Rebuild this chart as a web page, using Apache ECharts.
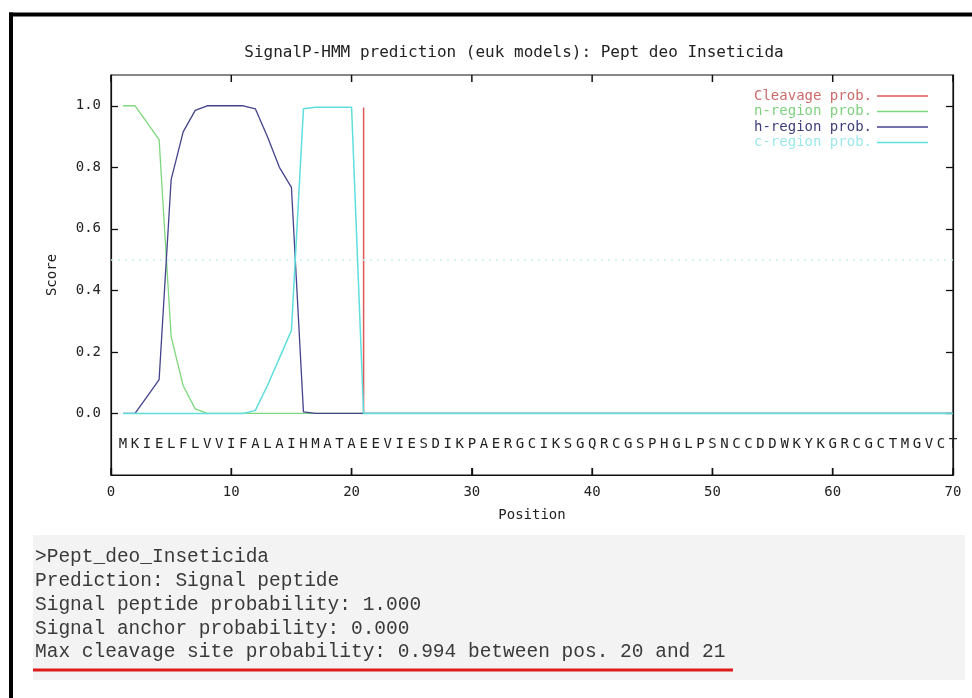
<!DOCTYPE html>
<html>
<head>
<meta charset="utf-8">
<script src="https://cdn.jsdelivr.net/npm/echarts@6/dist/echarts.min.js"></script>
<style>
html,body{margin:0;padding:0;background:#ffffff;}
#chart{width:972px;height:698px;}
</style>
</head>
<body>
<div id="chart"></div>
<script>
// ---------- data ----------
const titleText = 'SignalP-HMM prediction (euk models): Pept deo Inseticida';
const xTicks = [0, 10, 20, 30, 40, 50, 60, 70];
const yTicks = [0.0, 0.2, 0.4, 0.6, 0.8, 1.0];
const sequence = 'MKIELFLVVIFALAIHMATAEEVIESDIKPAERGCIKSGQRCGSPHGLPSNCCDDWKYKGRCGCTMGVCT'.split('');
const seriesNames = ['Cleavage prob.', 'n-region prob.', 'h-region prob.', 'c-region prob.'];
const cleavagePos = [21];
const cleavageVal = [0.994];
const nRegion = [
  1.0, 1.0, 0.945, 0.89, 0.25, 0.09, 0.015, 0, 0, 0,
  0, 0, 0, 0, 0, 0, 0, 0, 0, 0,
  0, 0, 0, 0, 0, 0, 0, 0, 0, 0,
  0, 0, 0, 0, 0, 0, 0, 0, 0, 0,
  0, 0, 0, 0, 0, 0, 0, 0, 0, 0,
  0, 0, 0, 0, 0, 0, 0, 0, 0, 0,
  0, 0, 0, 0, 0, 0, 0, 0, 0, 0
];
const hRegion = [
  0, 0, 0.055, 0.11, 0.76, 0.915, 0.985, 1.0, 1.0, 1.0,
  1.0, 0.99, 0.9, 0.8, 0.735, 0.005, 0, 0, 0, 0,
  0, 0, 0, 0, 0, 0, 0, 0, 0, 0,
  0, 0, 0, 0, 0, 0, 0, 0, 0, 0,
  0, 0, 0, 0, 0, 0, 0, 0, 0, 0,
  0, 0, 0, 0, 0, 0, 0, 0, 0, 0,
  0, 0, 0, 0, 0, 0, 0, 0, 0, 0
];
const cRegion = [
  0, 0, 0, 0, 0, 0, 0, 0, 0, 0,
  0, 0.01, 0.09, 0.18, 0.27, 0.99, 0.995, 0.995, 0.995, 0.995,
  0, 0, 0, 0, 0, 0, 0, 0, 0, 0,
  0, 0, 0, 0, 0, 0, 0, 0, 0, 0,
  0, 0, 0, 0, 0, 0, 0, 0, 0, 0,
  0, 0, 0, 0, 0, 0, 0, 0, 0, 0,
  0, 0, 0, 0, 0, 0, 0, 0, 0, 0
];
const threshold = 0.5;
const summaryLines = [
  '>Pept_deo_Inseticida',
  'Prediction: Signal peptide',
  'Signal peptide probability: 1.000',
  'Signal anchor probability: 0.000',
  'Max cleavage site probability: 0.994 between pos. 20 and 21'
];

// ---------- build ----------
const toXY = arr => arr.map((v, i) => [i + 1, v]);
const MONO = '"DejaVu Sans Mono", monospace';
const SEQ_ROW = -0.1;
const Y_MIN = -0.2, Y_MAX = 1.1, TICK_LEN = 7;

const chart = echarts.init(document.getElementById('chart'), null, {renderer: 'canvas'});

function axisCommon(ticks) {
  const tick = {show: true, inside: true, length: TICK_LEN, lineStyle: {color: '#111', width: 1.3}};
  if (ticks) tick.customValues = ticks;
  return {
    axisLine: {show: true, onZero: false, lineStyle: {color: '#111', width: 1.2}},
    axisTick: tick, splitLine: {show: false}
  };
}
const fmt1 = v => (Math.abs(v) < 1e-9 ? '0.0' : v.toFixed(1));

const textGraphics = summaryLines.map((t, i) => ({
  type: 'text', left: 35, top: 547 + i * 23.8,
  style: {text: t, font: '19.5px "Liberation Mono", monospace', fill: '#3a3a3a'}
}));

const option = {
  animation: false,
  backgroundColor: '#ffffff',
  title: {
    text: titleText, left: 509, top: 40, textAlign: 'center',
    textStyle: {fontFamily: MONO, fontSize: 16, fontWeight: 'normal', color: '#222'}
  },
  legend: {
    orient: 'vertical', right: 39, top: 84, align: 'right',
    icon: 'rect', itemWidth: 51, itemHeight: 1.5, itemGap: 1.5,
    textStyle: {fontFamily: MONO, fontSize: 14},
    data: [
      {name: seriesNames[0], textStyle: {color: '#cc6a6a'}},
      {name: seriesNames[1], textStyle: {color: '#7fd07f'}},
      {name: seriesNames[2], textStyle: {color: '#3e3e7c'}},
      {name: seriesNames[3], textStyle: {color: '#9de8e8'}}
    ]
  },
  grid: {left: 111, right: 19, top: 75, bottom: 223, show: true, borderColor: '#111', borderWidth: 1.2},
  xAxis: [
    Object.assign({}, axisCommon(null), {
      type: 'value', min: xTicks[0], max: xTicks[xTicks.length - 1], interval: xTicks[1] - xTicks[0],
      name: 'Position', nameLocation: 'middle', nameGap: 33,
      nameTextStyle: {fontFamily: MONO, fontSize: 14, color: '#222'},
      axisLabel: {fontFamily: MONO, fontSize: 14, color: '#222', margin: 10}
    })
  ],
  yAxis: [
    Object.assign({}, axisCommon(yTicks), {
      type: 'value', min: Y_MIN, max: Y_MAX, interval: yTicks[1] - yTicks[0],
      name: 'Score', nameLocation: 'middle', nameGap: 52, nameRotate: 90,
      nameTextStyle: {fontFamily: MONO, fontSize: 14, color: '#222'},
      axisLabel: {fontFamily: MONO, fontSize: 14, color: '#222', margin: 10, customValues: yTicks, formatter: fmt1}
    }),
    Object.assign({}, axisCommon(yTicks), {
      type: 'value', position: 'right', min: Y_MIN, max: Y_MAX, interval: yTicks[1] - yTicks[0],
      axisLabel: {show: false}
    })
  ],
  graphic: [
    {type: 'rect', shape: {x: 9, y: 12.5, width: 963, height: 4}, style: {fill: '#000'}, z: 100},
    {type: 'rect', shape: {x: 9, y: 12.5, width: 4, height: 686}, style: {fill: '#000'}, z: 100},
    {type: 'rect', shape: {x: 33, y: 535, width: 932, height: 145}, style: {fill: '#f3f3f3'}, z: -1},
    {type: 'rect', shape: {x: 33, y: 668.5, width: 700, height: 3}, style: {fill: '#e01b1b'}, z: 100}
  ].concat(textGraphics),
  series: [
    {
      name: 'xticks', type: 'custom', clip: false, silent: true,
      data: xTicks.map(v => [v, Y_MIN, Y_MAX]),
      encode: {x: 0, y: 1},
      renderItem: (params, api) => {
        const b = api.coord([api.value(0), api.value(1)]);
        const t = api.coord([api.value(0), api.value(2)]);
        const st = {stroke: '#111', lineWidth: 1.5};
        return {type: 'group', children: [
          {type: 'line', shape: {x1: b[0], y1: b[1], x2: b[0], y2: b[1] - TICK_LEN}, style: st},
          {type: 'line', shape: {x1: t[0], y1: t[1], x2: t[0], y2: t[1] + TICK_LEN}, style: st}
        ]};
      },
      z: 9
    },
    {
      name: seriesNames[0], type: 'custom', color: '#e05a5a',
      data: cleavagePos.map((p, i) => [p, cleavageVal[i]]),
      renderItem: (params, api) => {
        const p0 = api.coord([api.value(0), 0]);
        const p1 = api.coord([api.value(0), api.value(1)]);
        return {type: 'line', shape: {x1: p0[0], y1: p0[1], x2: p1[0], y2: p1[1]},
                style: {stroke: '#e05a5a', lineWidth: 1.5}};
      },
      z: 2
    },
    {
      name: seriesNames[1], type: 'line', data: toXY(nRegion), showSymbol: false, color: '#7ed67e',
      lineStyle: {width: 1.3, color: '#7ed67e'}, z: 3
    },
    {
      name: seriesNames[2], type: 'line', data: toXY(hRegion), showSymbol: false, color: '#43438c',
      lineStyle: {width: 1.3, color: '#43438c'}, z: 4
    },
    {
      name: seriesNames[3], type: 'line', data: toXY(cRegion), showSymbol: false, color: '#5fdede',
      lineStyle: {width: 1.5, color: '#5fdede'}, z: 5,
      markLine: {
        silent: true, symbol: 'none', label: {show: false},
        lineStyle: {type: [2, 5], color: '#c6eeee', width: 1.5},
        data: [{yAxis: threshold}]
      }
    },
    {
      name: 'sequence', type: 'custom',
      data: sequence.map((s, i) => [i + 1, SEQ_ROW, s]),
      renderItem: (params, api) => {
        const pt = api.coord([api.value(0), api.value(1)]);
        return {type: 'text', x: pt[0], y: pt[1],
                style: {text: sequence[params.dataIndex], font: '14px ' + MONO, fill: '#222', align: 'center', verticalAlign: 'middle'}};
      },
      z: 6
    }
  ]
};
chart.setOption(option);
</script>
</body>
</html>
